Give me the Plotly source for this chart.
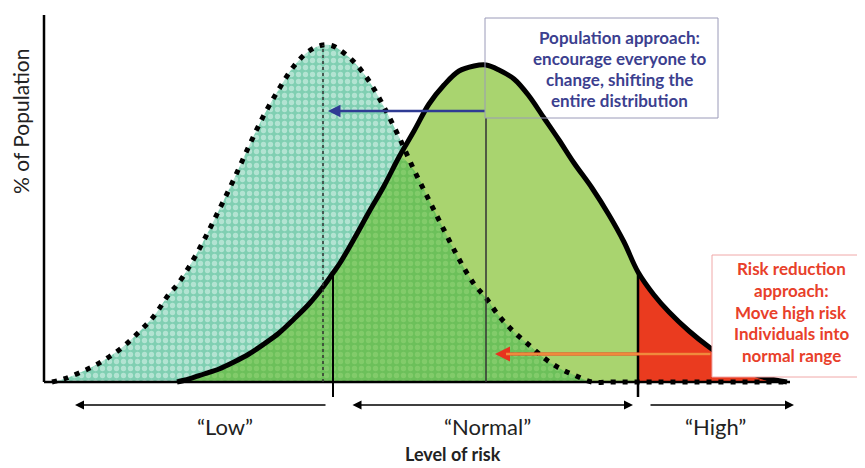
import plotly.graph_objects as go

# ---- data (arbitrary units: risk level vs % of population) ----
risk = [8, 20, 35, 50, 65, 80, 95, 110, 125, 133, 145, 160, 175, 190, 205, 220, 235, 250,
        265, 279, 289, 296, 310, 325, 340, 355, 370, 385, 400, 415, 430, 442, 455, 470,
        485, 500, 515, 530, 548, 565, 580, 594, 610, 625, 645, 665, 690, 715, 743]
shifted = [0, 3, 9, 16, 25, 36, 50, 66, 88, 97, 115, 142, 172, 203, 236, 267, 293, 316,
           331, 337, 336, 332, 320, 301, 275, 245, 212, 182, 152, 123, 98, 84, 66, 50,
           37, 24, 14, 7, 0, 0, 0, 0, 0, 0, 0, 0, 0, 0, 0]
current = [0, 0, 0, 0, 0, 0, 0, 0, 0, 0, 3, 8, 13, 20, 28, 38, 49, 63,
           78, 95, 109, 119, 143, 170, 196, 225, 251, 278, 297, 311, 316, 317, 312, 303,
           286, 264, 242, 219, 194, 167, 140, 110, 87, 70, 51, 35, 18, 6, 0]
cut_low = 289
cut_high = 594
mean_new = 279
mean_old = 442

band_labels = ["\u201cLow\u201d", "\u201cNormal\u201d", "\u201cHigh\u201d"]
band_centers = [181, 443, 671]
pop_lines = ["Population approach:", "encourage everyone to",
             "change, shifting the", "entire distribution"]
risk_lines = ["Risk reduction", "approach:", "Move high risk",
              "Individuals into", "normal range"]

overlap = [min(a, b) for a, b in zip(shifted, current)]
i_hi = risk.index(cut_high)
i_lo = risk.index(cut_low)

FONT = "Lato"
fig = go.Figure()

# fills
fig.add_trace(go.Scatter(x=risk, y=shifted, mode="lines", line=dict(width=0, shape="spline"),
                         fill="tozeroy", fillcolor="#8fd6bd",
                         fillpattern=dict(shape=".", fgcolor="#e6f7f1", bgcolor="#80cfb2",
                                          size=7, solidity=0.45),
                         hoverinfo="skip"))
fig.add_trace(go.Scatter(x=risk, y=current, mode="lines", line=dict(width=0, shape="spline"),
                         fill="tozeroy", fillcolor="#a9d46f", hoverinfo="skip"))
fig.add_trace(go.Scatter(x=risk, y=overlap, mode="lines", line=dict(width=0, shape="spline"),
                         fill="tozeroy", fillcolor="#78c661",
                         fillpattern=dict(shape=".", fgcolor="#97d57a", bgcolor="#6cc05a",
                                          size=7, solidity=0.45),
                         hoverinfo="skip"))
fig.add_trace(go.Scatter(x=risk[i_hi:], y=current[i_hi:], mode="lines",
                         line=dict(width=0, shape="spline"),
                         fill="tozeroy", fillcolor="#ea3b1f", hoverinfo="skip"))
# curves
fig.add_trace(go.Scatter(x=risk, y=shifted, mode="lines",
                         line=dict(color="black", width=5, dash="5px,7px", shape="spline"),
                         hoverinfo="skip"))
fig.add_trace(go.Scatter(x=risk[9:], y=current[9:], mode="lines",
                         line=dict(color="black", width=5, shape="spline"),
                         hoverinfo="skip"))

shapes = [
    # axes
    dict(type="line", x0=0, x1=0, y0=0, y1=367, line=dict(color="black", width=2.5)),
    dict(type="line", x0=0, x1=746, y0=0, y1=0, line=dict(color="black", width=2.5)),
    # cut lines
    dict(type="line", x0=cut_low, x1=cut_low, y0=-15, y1=current[i_lo],
         line=dict(color="black", width=2)),
    dict(type="line", x0=cut_high, x1=cut_high, y0=-15, y1=current[i_hi],
         line=dict(color="black", width=2.5)),
    dict(type="line", x0=mean_new, x1=mean_new, y0=0, y1=max(shifted),
         line=dict(color="#333333", width=1.5, dash="dot")),
    dict(type="line", x0=mean_old, x1=mean_old, y0=0, y1=264,
         line=dict(color="#333333", width=1.5)),
    # text boxes
    dict(type="rect", x0=441, x1=674, y0=264, y1=364, line=dict(color="#9a9ab8", width=1),
         fillcolor="rgba(0,0,0,0)"),
    dict(type="rect", x0=668, x1=819, y0=5, y1=127, line=dict(color="#f0a8a8", width=1),
         fillcolor="white"),
]
fig.update_layout(shapes=shapes)

ann = []
# bottom range arrows
ann.append(dict(x=31, y=-23, ax=283, ay=-23, axref="x", ayref="y", xref="x", yref="y",
                text="", showarrow=True, arrowhead=2, arrowsize=1.2, arrowwidth=1.5,
                arrowcolor="black", standoff=0, startstandoff=0))
ann.append(dict(x=589, y=-23, ax=307, ay=-23, axref="x", ayref="y", xref="x", yref="y",
                text="", showarrow=True, arrowhead=2, startarrowhead=2, arrowside="end+start",
                arrowsize=1.2, startarrowsize=1.2, arrowwidth=1.5,
                arrowcolor="black", standoff=0, startstandoff=0))
ann.append(dict(x=750, y=-23, ax=605, ay=-23, axref="x", ayref="y", xref="x", yref="y",
                text="", showarrow=True, arrowhead=2, arrowsize=1.2, arrowwidth=1.5,
                arrowcolor="black", standoff=0, startstandoff=0))
# blue shift arrow
ann.append(dict(x=mean_new + 5, y=271, ax=mean_old, ay=271, axref="x", ayref="y",
                xref="x", yref="y", text="", showarrow=True, arrowhead=2, arrowsize=1,
                arrowwidth=2.5, arrowcolor="#2f3b94", standoff=0, startstandoff=0))
# red/orange arrow
ann.append(dict(x=451, y=28, ax=668, ay=28, axref="x", ayref="y", xref="x", yref="y",
                text="", showarrow=True, arrowhead=2, arrowsize=1, arrowwidth=3,
                arrowcolor="#e8321e", standoff=0, startstandoff=0))
ann.append(dict(x=462, y=28, ax=668, ay=28, axref="x", ayref="y", xref="x", yref="y",
                text="", showarrow=True, arrowhead=0, arrowwidth=2.5,
                arrowcolor="#f08a3c", standoff=0, startstandoff=0))

# texts
for lab, cx in zip(band_labels, band_centers):
    ann.append(dict(x=cx, y=-44, xref="x", yref="y", text=lab, showarrow=False,
                    font=dict(family=FONT, size=22, color="#222222")))
ann.append(dict(x=409, y=-72, xref="x", yref="y", text="Level of risk", showarrow=False,
                font=dict(family=FONT, size=18, color="#222222", weight="bold")))
ann.append(dict(x=-24, y=261, xref="x", yref="y", text="% of Population", showarrow=False,
                textangle=-90, font=dict(family=FONT, size=21, color="#222222")))
for line, yy in zip(pop_lines, [345, 324, 303, 282]):
    ann.append(dict(x=575, y=yy, xref="x", yref="y", text=line, showarrow=False,
                    font=dict(family=FONT, size=17, color="#3c3f8f", weight="bold")))
for line, yy in zip(risk_lines, [114, 92, 70, 49, 27]):
    ann.append(dict(x=747, y=yy, xref="x", yref="y", text=line, showarrow=False,
                    font=dict(family=FONT, size=17, color="#e8402a", weight="bold")))

# page body has an 8px margin: figure is 857x460 placed at (8, 8)
fig.update_layout(
    annotations=ann,
    width=857, height=460,
    margin=dict(l=0, r=0, t=0, b=0),
    paper_bgcolor="white", plot_bgcolor="white",
    showlegend=False,
    xaxis=dict(range=[-36, 821], visible=False, fixedrange=True),
    yaxis=dict(range=[-86, 374], visible=False, fixedrange=True),
)

fig.write_html("out.html")
